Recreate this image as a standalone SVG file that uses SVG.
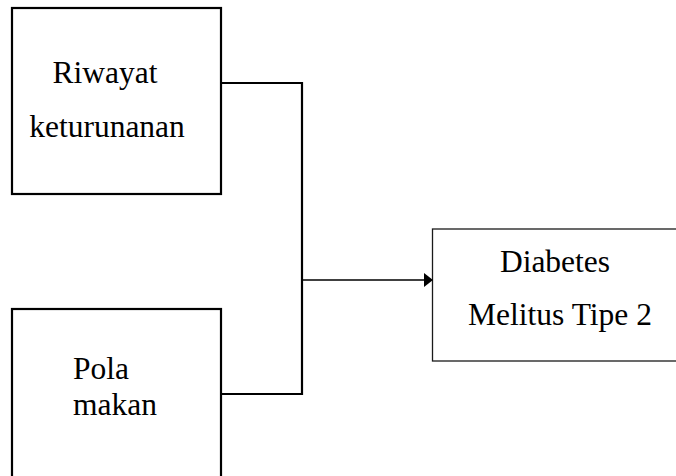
<svg xmlns="http://www.w3.org/2000/svg" width="676" height="476" viewBox="0 0 676 476">
<style>
.box{fill:#fff;stroke:#000;stroke-width:2.2}
.box2{fill:#fff;stroke:#1a1a1a;stroke-width:1.3}
.conn{fill:none;stroke:#000;stroke-width:2.2}
.t{font-family:"Liberation Serif","Times New Roman",serif;font-size:31.5px;fill:#000}
</style>
<rect width="676" height="476" fill="#fff"/>
<g id="riwayat">
<rect class="box" x="12" y="8" width="209" height="186"/>
<text class="t" x="105" y="83" text-anchor="middle">Riwayat</text>
<text class="t" x="107" y="137" text-anchor="middle">keturunanan</text>
</g>
<g id="pola">
<rect class="box" x="12" y="309" width="209" height="200"/>
<text class="t" x="73" y="379">Pola</text>
<text class="t" x="73" y="415">makan</text>
</g>
<g id="diabetes">
<rect class="box2" x="432.5" y="229" width="260" height="132"/>
<text class="t" x="555" y="272" text-anchor="middle">Diabetes</text>
<text class="t" x="560" y="325" text-anchor="middle">Melitus Tipe 2</text>
</g>
<g id="connectors">
<polyline class="conn" points="221,83 302,83 302,394 221,394"/>
<line x1="302" y1="280" x2="426" y2="280" stroke="#000" stroke-width="1.3"/>
<polygon points="424,273 433,280 424,287" fill="#000"/>
</g>
</svg>
